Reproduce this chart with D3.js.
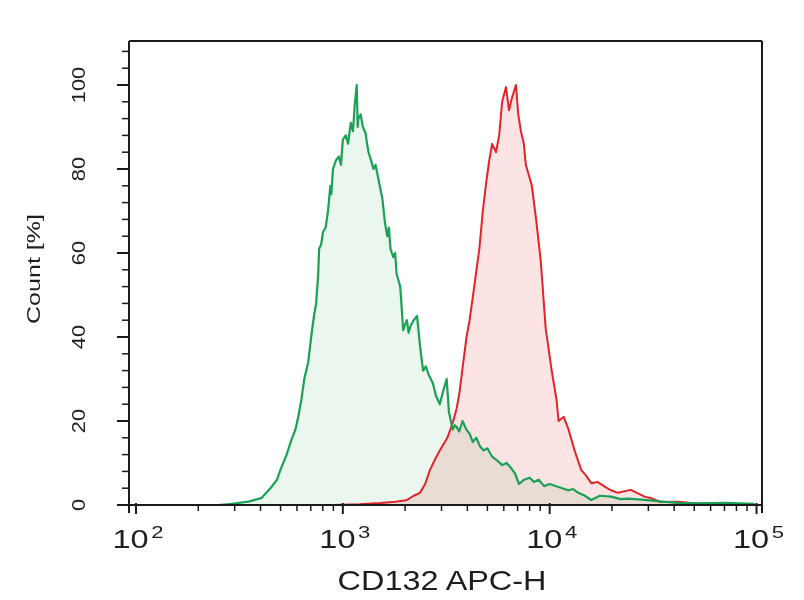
<!DOCTYPE html>
<html>
<head>
<meta charset="utf-8">
<script src="https://cdn.jsdelivr.net/npm/d3@7"></script>
<style>
  body { margin: 0; background: #fff; }
  text { font-family: "Liberation Sans", Arial, sans-serif; fill: #1e1e1e; }
</style>
</head>
<body>
<svg id="viz" width="804" height="600"></svg>
<script>
// histogram data: [intensity, count %]
const greenData = [[250,0],[291,0.3],[350,0.8],[405,1.7],[452,4.3],[480,6],[505,9],[535,12],[564,15.5],[590,18],[609,21],[630,25],[651,30],[680,34],[703,40],[725,45],[743,48],[760,55],[768,61],[785,62],[802,65],[825,66],[848,70],[870,76],[880,74],[896,80],[925,82],[957,83],[980,81],[1000,87],[1033,88],[1060,86],[1092,91],[1120,89],[1140,95],[1167,100],[1180,90],[1190,92],[1219,93],[1250,90],[1288,88.5],[1310,86],[1331,84],[1370,82],[1406,80],[1440,81],[1480,78],[1552,73],[1600,67],[1641,64],[1670,66],[1700,61],[1754,59],[1790,60],[1820,55],[1895,52],[1958,41.6],[2000,43],[2040,44],[2080,41],[2115,42.4],[2200,44],[2285,45],[2360,38],[2443,32],[2520,33],[2600,31],[2725,29],[2820,26],[2944,24],[3050,27],[3178,30],[3260,22],[3398,18],[3480,19],[3550,18.6],[3650,17.5],[3793,20],[3950,18],[4100,17],[4250,15],[4426,16],[4600,14],[4800,13],[5000,13.5],[5272,11.5],[5600,10.5],[5900,9.5],[6200,10],[6577,8.5],[6800,7.5],[7112,5],[7500,6],[8000,6.5],[8400,5.5],[8855,6],[9400,4.5],[10000,5],[11040,4.3],[12300,3.5],[13000,3.8],[13770,2.9],[14800,2.2],[15890,1.2],[17500,2.2],[19820,2],[22000,1.4],[24000,1.5],[28770,1.2],[35000,0.8],[41400,0.5],[55000,0.4],[70000,0.5],[97700,0.3]];

const redData = [[900,0],[1200,0.2],[1520,0.5],[1800,0.8],[2047,1.2],[2200,2.2],[2362,2.9],[2500,5],[2636,8.3],[2800,11],[2944,13],[3200,16],[3398,19.5],[3550,23],[3670,27],[3800,33],[3963,40],[4100,44],[4236,49],[4400,55],[4571,61],[4750,70],[4940,77],[5100,82],[5272,86],[5500,84],[5700,88],[5890,96],[6150,99.5],[6360,94],[6577,97],[6870,100],[7050,93],[7260,89],[7500,86],[7670,81],[8200,76],[8600,68],[9060,58],[9570,42],[10230,32],[10800,25],[11040,20],[11700,21],[12330,18],[13310,12.4],[14220,8.3],[15000,7],[15890,5.2],[17000,5.5],[18540,4.3],[19800,3.5],[21380,2.9],[24660,3.6],[28770,2],[31000,1.6],[34360,0.7],[42000,0.8],[50000,0.4],[70000,0.3],[97700,0.2]];

const yTicks = [0, 20, 40, 60, 80, 100];
const xDecades = [2, 3, 4, 5];
const yMax = 110.5;

const svg = d3.select("#viz");

// scales
const x = d3.scaleLog().domain([1e2, 1e5]).range([136, 756.5]);
const y = d3.scaleLinear().domain([0, 100]).range([505, 85]);
const left = 129, right = 762;

const area = d3.area().x(d => x(d[0])).y0(y(0)).y1(d => y(d[1]));
const line = d3.line().x(d => x(d[0])).y(d => y(d[1]));

// fills (multiply so overlap turns beige)
svg.append("path").datum(redData).attr("d", area)
   .attr("fill", "#fde4e4").style("mix-blend-mode", "multiply");
svg.append("path").datum(greenData).attr("d", area)
   .attr("fill", "#eaf6ee").style("mix-blend-mode", "multiply");

// outlines
svg.append("path").datum(redData).attr("d", line)
   .attr("fill", "none").attr("stroke", "#e0242a").attr("stroke-width", 2)
   .attr("stroke-linejoin", "round");
svg.append("path").datum(greenData).attr("d", line)
   .attr("fill", "none").attr("stroke", "#1ba155").attr("stroke-width", 2.2)
   .attr("stroke-linejoin", "round");

// frame
const frame = svg.append("g").attr("stroke", "#1a1a1a").attr("stroke-width", 2).attr("fill", "none");
frame.append("line").attr("x1", left).attr("x2", left).attr("y1", y(yMax)).attr("y2", 513);
frame.append("line").attr("x1", left).attr("x2", right).attr("y1", y(yMax)).attr("y2", y(yMax));
frame.append("line").attr("x1", right).attr("x2", right).attr("y1", y(yMax)).attr("y2", 513);
frame.append("line").attr("x1", left - 4).attr("x2", right).attr("y1", y(0)).attr("y2", y(0));

// y ticks: major every 20, minor every 4
const yMinor = d3.range(0, yMax, 4).filter(v => v % 20 !== 0);
frame.selectAll(".ymaj").data(yTicks).enter().append("line")
   .attr("x1", left - 12).attr("x2", left).attr("y1", d => y(d)).attr("y2", d => y(d));
frame.selectAll(".ymin").data(yMinor).enter().append("line")
   .attr("stroke-width", 1.5)
   .attr("x1", left - 7).attr("x2", left).attr("y1", d => y(d)).attr("y2", d => y(d));

svg.selectAll(".ylab").data(yTicks).enter().append("text")
   .attr("transform", d => `translate(85,${y(d)}) rotate(-90) scale(1.25,1)`)
   .attr("text-anchor", "middle").attr("font-size", 17.5)
   .text(d => d);

// x ticks: log decades and minors
const xMinor = [];
xDecades.slice(0, -1).forEach(p => { for (let k = 2; k <= 9; k++) xMinor.push(k * Math.pow(10, p)); });
frame.selectAll(".xmaj").data(xDecades).enter().append("line")
   .attr("x1", d => x(Math.pow(10, d))).attr("x2", d => x(Math.pow(10, d)))
   .attr("y1", y(0) - 2).attr("y2", 514);
frame.selectAll(".xmin").data(xMinor).enter().append("line")
   .attr("stroke-width", 1.5)
   .attr("x1", d => x(d)).attr("x2", d => x(d))
   .attr("y1", y(0)).attr("y2", 511);

const xl = svg.selectAll(".xlab").data(xDecades).enter().append("text")
   .attr("transform", d => `translate(${x(Math.pow(10, d)) + 2},548) scale(1.3,1)`)
   .attr("text-anchor", "middle").attr("font-size", 25);
xl.append("tspan").text("10");
xl.append("tspan").attr("dy", -10).attr("dx", 2).attr("font-size", 17).text(d => d);

// axis titles
svg.append("text")
   .attr("transform", "translate(442,590) scale(1.2,1)")
   .attr("text-anchor", "middle").attr("font-size", 27)
   .text("CD132 APC-H");
svg.append("text")
   .attr("transform", "translate(40,269) rotate(-90) scale(1.32,1)")
   .attr("text-anchor", "middle").attr("font-size", 19)
   .text("Count [%]");
</script>
</body>
</html>
